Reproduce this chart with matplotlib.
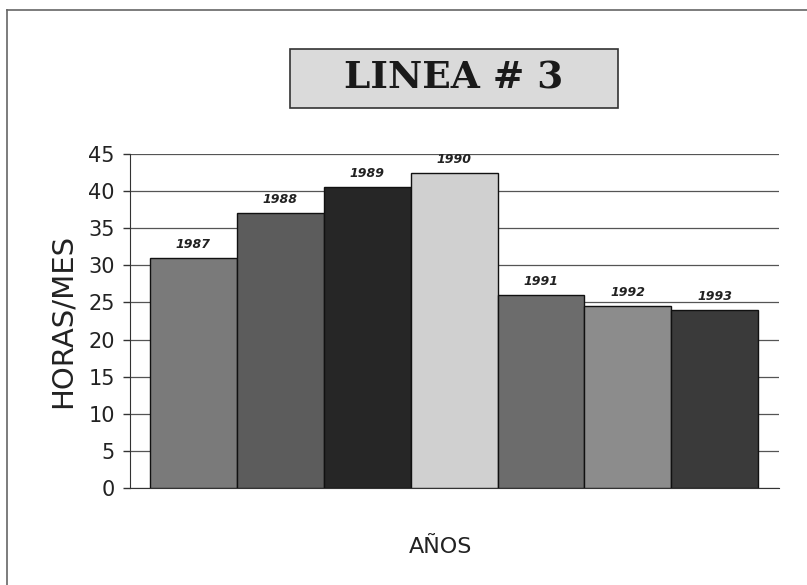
import matplotlib
matplotlib.use("Agg")
import matplotlib.pyplot as plt
from matplotlib.patches import Rectangle
from matplotlib.lines import Line2D

# data
years = ["1987", "1988", "1989", "1990", "1991", "1992", "1993"]
hours = [31.0, 37.0, 40.5, 42.5, 26.0, 24.5, 24.0]
bar_colors = ["#7a7a7a", "#5c5c5c", "#262626", "#d0d0d0", "#6c6c6c", "#8c8c8c", "#3a3a3a"]
yticks = list(range(0, 50, 5))

fig = plt.figure(figsize=(8.07, 5.85), dpi=100)
ax = fig.add_axes([130 / 807, 1 - 488 / 585, 649 / 807, 334 / 585])

x = list(range(len(years)))
ax.bar(x, hours, width=1.0, color=bar_colors, edgecolor="#111111", linewidth=1.0, zorder=3)

for xi, yr, h in zip(x, years, hours):
    ax.annotate(yr, (xi, h), xytext=(0, 5), textcoords="offset points",
                ha="center", va="bottom", fontsize=9, fontstyle="italic",
                fontweight="bold", family="DejaVu Sans", color="#222222")

ax.set_xlim(-0.73, 6.74)
ax.set_ylim(0, 45)
ax.set_yticks(yticks)
ax.set_xticks([])
ax.yaxis.grid(True, color="#555555", linewidth=0.9, zorder=0)
ax.set_axisbelow(True)
ax.tick_params(axis="y", direction="out", length=5, width=1, color="#333333",
               labelsize=15, pad=6, labelcolor="#222222")
for s in ["top", "right"]:
    ax.spines[s].set_visible(False)
ax.spines["left"].set_color("#333333")
ax.spines["bottom"].set_color("#333333")

ax.set_ylabel("HORAS/MES", fontsize=21, family="DejaVu Sans",
              color="#222222", labelpad=8)
fig.text(441 / 807, 1 - 547 / 585, "AÑOS", fontsize=16, ha="center", va="center",
         family="DejaVu Sans", color="#222222")

# title box
fig.patches.append(Rectangle((290 / 807, 1 - 108 / 585), 328 / 807, 59 / 585,
                             transform=fig.transFigure, facecolor="#dadada",
                             edgecolor="#333333", linewidth=1.2))
fig.text(454 / 807, 1 - 78 / 585, "LINEA # 3", fontsize=27, ha="center", va="center",
         family="DejaVu Serif", fontweight="black", color="#1a1a1a")

# outer frame (only top and left edges visible in the scan)
fig.lines.append(Line2D([7 / 807, 7 / 807], [0, 1 - 10 / 585], transform=fig.transFigure,
                        color="#666666", linewidth=1.2))
fig.lines.append(Line2D([7 / 807, 1], [1 - 10 / 585, 1 - 10 / 585], transform=fig.transFigure,
                        color="#666666", linewidth=1.2))

fig.savefig("out.png", dpi=100)
